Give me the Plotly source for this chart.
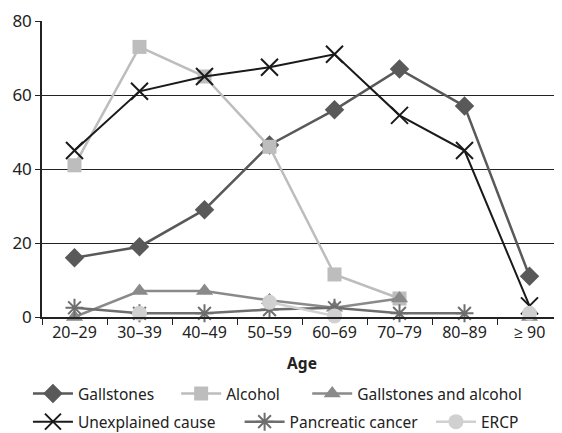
import plotly.graph_objects as go

ages = ["20–29", "30–39", "40–49", "50–59", "60–69", "70–79", "80–89", "≥ 90"]
gallstones = [16, 19, 29, 46.5, 56, 67, 57, 11]
alcohol = [41, 73, 65, 46, 11.5, 5, None, None]
gall_alcohol = [0, 7, 7, 4.5, 2.5, 5, None, 0]
unexplained = [45, 61, 65, 67.5, 71, 54.5, 45, 3]
pancreatic = [2.5, 1, 1, 2, 2.5, 1, 1, None]
ercp = [None, 1, None, 4, 0.3, None, None, 1]

series = [
    ("Gallstones", gallstones, "#595959", "diamond", 15, 2.5),
    ("Alcohol", alcohol, "#BDBDBD", "square", 14, 2.5),
    ("Gallstones and alcohol", gall_alcohol, "#8A8A8A", "triangle-up", 15, 2.5),
    ("Unexplained cause", unexplained, "#1A1A1A", "x-thin-open", 17, 2),
    ("Pancreatic cancer", pancreatic, "#6E6E6E", "asterisk-open", 15, 2.5),
    ("ERCP", ercp, "#D0D0D0", "circle", 15, 2.5),
]
# legend placement (paper coords) for each entry
legend_pos = [(-0.027, -0.26), (0.258, -0.26), (0.51, -0.26),
              (-0.027, -0.355), (0.38, -0.355), (0.748, -0.355)]

fig = go.Figure()
legends = {}
for i, (name, vals, color, sym, size, lw) in enumerate(series):
    lg = "legend" if i == 0 else f"legend{i+1}"
    mline = dict(color=color, width=2) if "open" in sym else dict(width=0)
    fig.add_trace(go.Scatter(
        x=ages, y=vals, name=name, mode="lines+markers",
        line=dict(color=color, width=lw),
        marker=dict(symbol=sym, size=size, color=color, line=mline),
        cliponaxis=False, connectgaps=False, legend=lg,
    ))
    lx, ly = legend_pos[i]
    legends[lg] = dict(orientation="h", xanchor="left", yanchor="middle",
                       x=lx, y=ly,
                       font=dict(size=15.5, color="#222222"), itemwidth=40,
                       bgcolor="rgba(0,0,0,0)", borderwidth=0)

font = "Noto Sans, Open Sans, sans-serif"
fig.update_layout(
    width=554, height=425,
    margin=dict(l=34, r=0, t=13, b=116, autoexpand=False),
    paper_bgcolor="white", plot_bgcolor="white",
    font=dict(family=font, size=15, color="#222222"),
    showlegend=True,
    xaxis=dict(
        type="category", range=[-0.5, 7.5], showgrid=False,
        showline=True, linecolor="#222222", linewidth=1.5,
        ticks="outside", tickson="boundaries", ticklen=6, tickcolor="#222222",
        tickfont=dict(size=16),
        title=dict(text="<b>Age</b>", font=dict(size=15.5), standoff=16),
    ),
    yaxis=dict(
        range=[0, 80], dtick=20, showgrid=True, gridcolor="#222222", gridwidth=1,
        showline=True, linecolor="#222222", linewidth=1.5,
        ticks="outside", ticklen=5, tickcolor="#222222",
        tickfont=dict(size=17), zeroline=False,
    ),
    **legends,
)
fig.write_html("out.html")
